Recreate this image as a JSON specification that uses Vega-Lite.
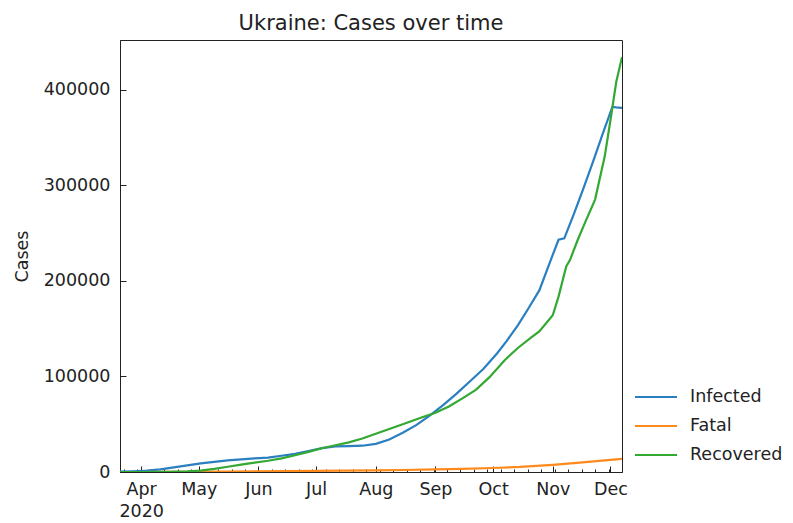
{
  "$schema": "https://vega.github.io/schema/vega-lite/v6.json",
  "width": 502,
  "height": 432,
  "autosize": {"type": "none"},
  "padding": {"left": 120, "top": 40, "right": 171, "bottom": 51},
  "background": "white",
  "title": {"text": "Ukraine: Cases over time", "fontSize": 21, "font": "DejaVu Sans", "fontWeight": "normal", "color": "#222", "baseline": "alphabetic", "offset": -11, "anchor": "middle"},
  "config": {
    "font": "DejaVu Sans",
    "view": {"stroke": "#222", "strokeWidth": 1},
    "axis": {"domainColor": "#222", "tickColor": "#222", "labelColor": "#222", "titleColor": "#222", "labelFont": "DejaVu Sans", "titleFont": "DejaVu Sans", "grid": false}
  },
  "data": {"values": [
    {"date": "2020-03-21", "variable": "Infected", "value": 300},
    {"date": "2020-03-28", "variable": "Infected", "value": 800},
    {"date": "2020-04-04", "variable": "Infected", "value": 1500},
    {"date": "2020-04-11", "variable": "Infected", "value": 2800},
    {"date": "2020-04-18", "variable": "Infected", "value": 4800},
    {"date": "2020-04-25", "variable": "Infected", "value": 7000},
    {"date": "2020-05-02", "variable": "Infected", "value": 9000},
    {"date": "2020-05-09", "variable": "Infected", "value": 10500},
    {"date": "2020-05-16", "variable": "Infected", "value": 12200},
    {"date": "2020-05-23", "variable": "Infected", "value": 13300},
    {"date": "2020-05-30", "variable": "Infected", "value": 14200},
    {"date": "2020-06-06", "variable": "Infected", "value": 15000},
    {"date": "2020-06-13", "variable": "Infected", "value": 17000},
    {"date": "2020-06-20", "variable": "Infected", "value": 19000},
    {"date": "2020-06-27", "variable": "Infected", "value": 22000},
    {"date": "2020-07-04", "variable": "Infected", "value": 25000},
    {"date": "2020-07-11", "variable": "Infected", "value": 26800},
    {"date": "2020-07-18", "variable": "Infected", "value": 27000},
    {"date": "2020-07-25", "variable": "Infected", "value": 27500},
    {"date": "2020-08-01", "variable": "Infected", "value": 29500},
    {"date": "2020-08-08", "variable": "Infected", "value": 34000},
    {"date": "2020-08-15", "variable": "Infected", "value": 41000},
    {"date": "2020-08-22", "variable": "Infected", "value": 49000},
    {"date": "2020-08-29", "variable": "Infected", "value": 59000},
    {"date": "2020-09-05", "variable": "Infected", "value": 70000},
    {"date": "2020-09-12", "variable": "Infected", "value": 82000},
    {"date": "2020-09-19", "variable": "Infected", "value": 95000},
    {"date": "2020-09-26", "variable": "Infected", "value": 108000},
    {"date": "2020-10-03", "variable": "Infected", "value": 124000},
    {"date": "2020-10-08", "variable": "Infected", "value": 137000},
    {"date": "2020-10-14", "variable": "Infected", "value": 154000},
    {"date": "2020-10-19", "variable": "Infected", "value": 170000},
    {"date": "2020-10-25", "variable": "Infected", "value": 190000},
    {"date": "2020-10-31", "variable": "Infected", "value": 222000},
    {"date": "2020-11-04", "variable": "Infected", "value": 243000},
    {"date": "2020-11-07", "variable": "Infected", "value": 244500},
    {"date": "2020-11-12", "variable": "Infected", "value": 270000},
    {"date": "2020-11-17", "variable": "Infected", "value": 297000},
    {"date": "2020-11-22", "variable": "Infected", "value": 325000},
    {"date": "2020-11-27", "variable": "Infected", "value": 354000},
    {"date": "2020-12-02", "variable": "Infected", "value": 382000},
    {"date": "2020-12-04", "variable": "Infected", "value": 381500},
    {"date": "2020-12-07", "variable": "Infected", "value": 381000},
    {"date": "2020-03-21", "variable": "Fatal", "value": 3},
    {"date": "2020-04-01", "variable": "Fatal", "value": 25},
    {"date": "2020-04-15", "variable": "Fatal", "value": 110},
    {"date": "2020-05-01", "variable": "Fatal", "value": 270},
    {"date": "2020-05-15", "variable": "Fatal", "value": 500},
    {"date": "2020-06-01", "variable": "Fatal", "value": 700},
    {"date": "2020-06-15", "variable": "Fatal", "value": 950},
    {"date": "2020-07-01", "variable": "Fatal", "value": 1250},
    {"date": "2020-07-15", "variable": "Fatal", "value": 1450},
    {"date": "2020-08-01", "variable": "Fatal", "value": 1750},
    {"date": "2020-08-15", "variable": "Fatal", "value": 2100},
    {"date": "2020-09-01", "variable": "Fatal", "value": 2700},
    {"date": "2020-09-15", "variable": "Fatal", "value": 3300},
    {"date": "2020-10-01", "variable": "Fatal", "value": 4200},
    {"date": "2020-10-15", "variable": "Fatal", "value": 5300},
    {"date": "2020-11-01", "variable": "Fatal", "value": 7500},
    {"date": "2020-11-15", "variable": "Fatal", "value": 9800},
    {"date": "2020-12-01", "variable": "Fatal", "value": 12700},
    {"date": "2020-12-07", "variable": "Fatal", "value": 13800},
    {"date": "2020-03-21", "variable": "Recovered", "value": 0},
    {"date": "2020-04-01", "variable": "Recovered", "value": 20},
    {"date": "2020-04-15", "variable": "Recovered", "value": 150},
    {"date": "2020-04-25", "variable": "Recovered", "value": 600},
    {"date": "2020-05-02", "variable": "Recovered", "value": 1500},
    {"date": "2020-05-09", "variable": "Recovered", "value": 3300},
    {"date": "2020-05-16", "variable": "Recovered", "value": 5500},
    {"date": "2020-05-23", "variable": "Recovered", "value": 7800},
    {"date": "2020-05-30", "variable": "Recovered", "value": 9800},
    {"date": "2020-06-06", "variable": "Recovered", "value": 11800},
    {"date": "2020-06-13", "variable": "Recovered", "value": 14200},
    {"date": "2020-06-20", "variable": "Recovered", "value": 17500},
    {"date": "2020-06-27", "variable": "Recovered", "value": 21000},
    {"date": "2020-07-04", "variable": "Recovered", "value": 24800},
    {"date": "2020-07-11", "variable": "Recovered", "value": 28000},
    {"date": "2020-07-18", "variable": "Recovered", "value": 31000},
    {"date": "2020-07-25", "variable": "Recovered", "value": 35000},
    {"date": "2020-08-01", "variable": "Recovered", "value": 40000},
    {"date": "2020-08-08", "variable": "Recovered", "value": 45000},
    {"date": "2020-08-15", "variable": "Recovered", "value": 50000},
    {"date": "2020-08-24", "variable": "Recovered", "value": 56500},
    {"date": "2020-09-01", "variable": "Recovered", "value": 62000},
    {"date": "2020-09-08", "variable": "Recovered", "value": 68500},
    {"date": "2020-09-15", "variable": "Recovered", "value": 77000},
    {"date": "2020-09-22", "variable": "Recovered", "value": 86000},
    {"date": "2020-09-29", "variable": "Recovered", "value": 99000},
    {"date": "2020-10-07", "variable": "Recovered", "value": 117000},
    {"date": "2020-10-14", "variable": "Recovered", "value": 130000},
    {"date": "2020-10-21", "variable": "Recovered", "value": 141000},
    {"date": "2020-10-25", "variable": "Recovered", "value": 147000},
    {"date": "2020-11-01", "variable": "Recovered", "value": 164000},
    {"date": "2020-11-04", "variable": "Recovered", "value": 183500},
    {"date": "2020-11-08", "variable": "Recovered", "value": 215000},
    {"date": "2020-11-10", "variable": "Recovered", "value": 222000},
    {"date": "2020-11-14", "variable": "Recovered", "value": 243000},
    {"date": "2020-11-18", "variable": "Recovered", "value": 262000},
    {"date": "2020-11-23", "variable": "Recovered", "value": 285000},
    {"date": "2020-11-28", "variable": "Recovered", "value": 330000},
    {"date": "2020-12-01", "variable": "Recovered", "value": 368000},
    {"date": "2020-12-04", "variable": "Recovered", "value": 408000},
    {"date": "2020-12-07", "variable": "Recovered", "value": 434000}
  ]},
  "mark": {"type": "line", "strokeWidth": 2.2, "clip": true},
  "encoding": {
    "x": {
      "field": "date",
      "type": "temporal",
      "scale": {"type": "utc", "domain": [{"year": 2020, "month": 3, "date": 21, "utc": true}, {"year": 2020, "month": 12, "date": 7, "utc": true}]},
      "axis": {
        "title": null,
        "values": [
          {"year": 2020, "month": 3, "date": 23, "utc": true},
          {"year": 2020, "month": 3, "date": 30, "utc": true},
          {"year": 2020, "month": 4, "date": 1, "utc": true},
          {"year": 2020, "month": 4, "date": 6, "utc": true},
          {"year": 2020, "month": 4, "date": 13, "utc": true},
          {"year": 2020, "month": 4, "date": 20, "utc": true},
          {"year": 2020, "month": 4, "date": 27, "utc": true},
          {"year": 2020, "month": 5, "date": 1, "utc": true},
          {"year": 2020, "month": 5, "date": 4, "utc": true},
          {"year": 2020, "month": 5, "date": 11, "utc": true},
          {"year": 2020, "month": 5, "date": 18, "utc": true},
          {"year": 2020, "month": 5, "date": 25, "utc": true},
          {"year": 2020, "month": 6, "date": 1, "utc": true},
          {"year": 2020, "month": 6, "date": 8, "utc": true},
          {"year": 2020, "month": 6, "date": 15, "utc": true},
          {"year": 2020, "month": 6, "date": 22, "utc": true},
          {"year": 2020, "month": 6, "date": 29, "utc": true},
          {"year": 2020, "month": 7, "date": 1, "utc": true},
          {"year": 2020, "month": 7, "date": 6, "utc": true},
          {"year": 2020, "month": 7, "date": 13, "utc": true},
          {"year": 2020, "month": 7, "date": 20, "utc": true},
          {"year": 2020, "month": 7, "date": 27, "utc": true},
          {"year": 2020, "month": 8, "date": 1, "utc": true},
          {"year": 2020, "month": 8, "date": 3, "utc": true},
          {"year": 2020, "month": 8, "date": 10, "utc": true},
          {"year": 2020, "month": 8, "date": 17, "utc": true},
          {"year": 2020, "month": 8, "date": 24, "utc": true},
          {"year": 2020, "month": 8, "date": 31, "utc": true},
          {"year": 2020, "month": 9, "date": 1, "utc": true},
          {"year": 2020, "month": 9, "date": 7, "utc": true},
          {"year": 2020, "month": 9, "date": 14, "utc": true},
          {"year": 2020, "month": 9, "date": 21, "utc": true},
          {"year": 2020, "month": 9, "date": 28, "utc": true},
          {"year": 2020, "month": 10, "date": 1, "utc": true},
          {"year": 2020, "month": 10, "date": 5, "utc": true},
          {"year": 2020, "month": 10, "date": 12, "utc": true},
          {"year": 2020, "month": 10, "date": 19, "utc": true},
          {"year": 2020, "month": 10, "date": 26, "utc": true},
          {"year": 2020, "month": 11, "date": 1, "utc": true},
          {"year": 2020, "month": 11, "date": 2, "utc": true},
          {"year": 2020, "month": 11, "date": 9, "utc": true},
          {"year": 2020, "month": 11, "date": 16, "utc": true},
          {"year": 2020, "month": 11, "date": 23, "utc": true},
          {"year": 2020, "month": 11, "date": 30, "utc": true},
          {"year": 2020, "month": 12, "date": 1, "utc": true}
        ],
        "labelExpr": "utcdate(datum.value) == 1 ? (utcmonth(datum.value) == 3 ? ['Apr', '2020'] : utcFormat(datum.value, '%b')) : ''",
        "tickSize": {"condition": {"test": "utcdate(datum.value) == 1", "value": -6}, "value": -3},
        "labelFontSize": 17.5,
        "labelLineHeight": 22,
        "labelPadding": 14,
        "labelFlush": false,
        "labelOverlap": false,
        "labelBound": false
      }
    },
    "y": {
      "field": "value",
      "type": "quantitative",
      "scale": {"domain": [0, 452000], "nice": false, "zero": true},
      "axis": {
        "title": "Cases",
        "titleFontSize": 17.5,
        "titleFontWeight": "normal",
        "titlePadding": 12,
        "values": [0, 100000, 200000, 300000, 400000],
        "format": "d",
        "labelFontSize": 17.5,
        "tickSize": -6,
        "labelPadding": 16
      }
    },
    "color": {
      "field": "variable",
      "type": "nominal",
      "scale": {"domain": ["Infected", "Fatal", "Recovered"], "range": ["#2a7fc0", "#ff8a1c", "#33a833"]},
      "legend": {
        "title": null,
        "orient": "none",
        "legendX": 524,
        "legendY": 345,
        "symbolType": "M-2,0L2,0",
        "symbolSize": 441,
        "symbolStrokeWidth": 2.2,
        "labelFontSize": 17.5,
        "labelFont": "DejaVu Sans",
        "labelColor": "#222",
        "labelOffset": 22,
        "rowPadding": 8,
        "padding": 0
      }
    }
  }
}
